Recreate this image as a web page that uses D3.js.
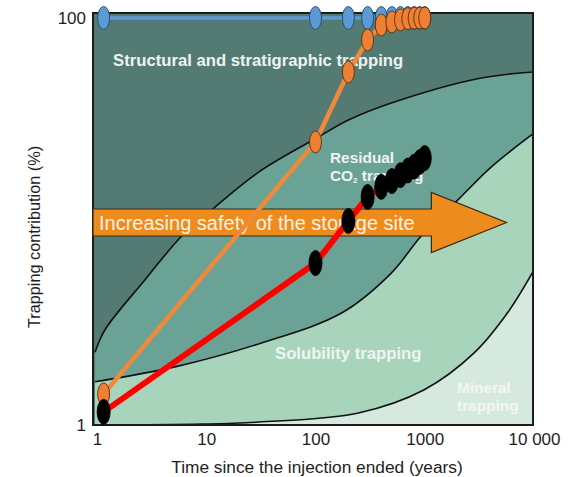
<!DOCTYPE html>
<html>
<head>
<meta charset="utf-8">
<script src="https://cdn.jsdelivr.net/npm/d3@7"></script>
<style>
  body { margin: 0; background: #fff; }
  svg { display: block; font-family: "Liberation Sans", Arial, sans-serif; }
</style>
</head>
<body>
<svg id="chart" width="569" height="477"></svg>
<script>
// Axis ticks
const xTicks = [1, 10, 100, 1000, 10000];
const xTickLabels = ["1", "10", "100", "1000", "10 000"];
const yTicks = [1, 100];
const yTickLabels = ["1", "100"];

// Sampled times (years after injection) and trapping contributions (%)
const sampleYears = [1.15, 100, 200, 300, 400, 500, 600, 700, 800, 900, 1000];
const blueValues = [100, 100, 100, 100, 100, 100, 100, 100, 100, 100, 100];
const orangeValues = [1.42, 24.6, 54.3, 78, 92.4, 95.6, 97.9, 99.3, 99.8, 100, 100];
const blackValues = [1.16, 6.25, 10.06, 13.2, 14.8, 15.8, 16.9, 17.8, 18.6, 19.6, 20.5];

// Boundaries between the trapping mechanisms
const structuralEdgeYears = [0.96, 1.18, 2.74, 5.97, 11.2, 30.2, 106, 200, 494, 3280, 10000];
const structuralEdge = [2.28, 2.93, 5.16, 8.49, 11.4, 17.5, 26.0, 31.5, 38.2, 50.7, 54.3];
const residualEdgeYears = [0.96, 5.16, 32.1, 173, 494, 929, 2023, 4050, 10000];
const residualEdge = [1.63, 1.93, 2.53, 3.55, 5.58, 8.49, 12.8, 18.5, 27.2];
const solubilityEdgeYears = [0.96, 9.1, 30.2, 247, 989, 2832, 5790, 10000];
const solubilityEdge = [1.0, 1.01, 1.034, 1.146, 1.49, 2.26, 3.59, 5.78];

// Arrow annotation: level (%) and years of the head base and tip
const arrowLevel = 10;
const arrowHeadYears = 1150;
const arrowTipYears = 5600;

const svg = d3.select("#chart");
const frame = { left: 93, right: 533, top: 13, bottom: 425 };

const x = d3.scaleLog().domain([1, 10000]).range([97, 534]);
const y = d3.scaleLog().domain([1, 100]).range([425, 18]);

svg.append("defs").append("clipPath").attr("id", "plotClip")
  .append("rect")
  .attr("x", frame.left).attr("y", frame.top)
  .attr("width", frame.right - frame.left).attr("height", frame.bottom - frame.top);

const plot = svg.append("g").attr("clip-path", "url(#plotClip)");

// Background: structural and stratigraphic trapping
plot.append("rect")
  .attr("x", frame.left).attr("y", frame.top)
  .attr("width", frame.right - frame.left).attr("height", frame.bottom - frame.top)
  .attr("fill", "#547b73");

function zip(ts, vs) { return ts.map((t, i) => ({ t, v: vs[i] })); }
const smooth = d3.curveCatmullRom.alpha(0.5);
const area = d3.area()
  .x(d => x(d.t)).y0(frame.bottom + 5).y1(d => y(d.v))
  .curve(smooth);
const edge = d3.line()
  .x(d => x(d.t)).y(d => y(d.v))
  .curve(smooth);

const layers = [
  { data: zip(structuralEdgeYears, structuralEdge), fill: "#6ba296" },
  { data: zip(residualEdgeYears, residualEdge), fill: "#a8d4bb" },
  { data: zip(solubilityEdgeYears, solubilityEdge), fill: "#d5e9df" }
];
layers.forEach(l => {
  plot.append("path").attr("d", area(l.data)).attr("fill", l.fill);
});
layers.forEach(l => {
  plot.append("path").attr("d", edge(l.data))
    .attr("fill", "none").attr("stroke", "#111").attr("stroke-width", 1.6);
});

// Region labels
const labelStyle = (sel, size) => sel
  .attr("fill", "#eef4f1").attr("font-weight", "bold").attr("font-size", size);
svg.append("text").attr("x", 113).attr("y", 66)
  .text("Structural and stratigraphic trapping").call(labelStyle, "16.7px");
svg.append("text").attr("x", 330).attr("y", 163).text("Residual").call(labelStyle, "15.4px");
const co2 = svg.append("text").attr("x", 330).attr("y", 180.5).call(labelStyle, "15.4px");
co2.append("tspan").text("CO");
co2.append("tspan").text("2").attr("font-size", "8px").attr("dy", 2);
co2.append("tspan").text(" trapping").attr("dy", -2);
svg.append("text").attr("x", 275).attr("y", 359).text("Solubility trapping").call(labelStyle, "16.7px");
svg.append("text").attr("x", 457).attr("y", 393).text("Mineral").call(labelStyle, "15.4px").attr("fill", "#f2f7f4");
svg.append("text").attr("x", 457).attr("y", 410.5).text("trapping").call(labelStyle, "15.4px").attr("fill", "#f2f7f4");

// Frame
svg.append("rect")
  .attr("x", frame.left).attr("y", frame.top)
  .attr("width", frame.right - frame.left).attr("height", frame.bottom - frame.top)
  .attr("fill", "none").attr("stroke", "#1c1c1c").attr("stroke-width", 2);

// Arrow
const ay = y(arrowLevel) + 1, shaft = 13.5, head = 30;
const hx = x(arrowHeadYears), tx = x(arrowTipYears);
svg.append("path")
  .attr("d", `M${frame.left},${ay - shaft}L${hx},${ay - shaft}L${hx},${ay - head}L${tx},${ay}` +
             `L${hx},${ay + head}L${hx},${ay + shaft}L${frame.left},${ay + shaft}Z`)
  .attr("fill", "#ee8b1d").attr("stroke", "#3b2a12").attr("stroke-width", 1.2);
svg.append("text").attr("x", 99).attr("y", ay + 7)
  .attr("font-size", "20px").attr("fill", "#fdf2e6")
  .text("Increasing safety of the storage site");

// Series
const series = [
  { values: blueValues, line: "#5b9bd5", width: 3.5, fill: "#5b9bd5", stroke: "#26466a", rx: 6, ry: 11.5 },
  { values: orangeValues, line: "#f08a3a", width: 4.5, fill: "#ef7f33", stroke: "#5a2e0c", rx: 6, ry: 11 },
  { values: blackValues, line: "#ff0000", width: 6, fill: "#000", stroke: "#000", rx: 6.5, ry: 12.5 }
];
const seriesLine = d3.line().x(d => x(d.t)).y(d => y(d.v));
series.forEach(s => {
  const pts = zip(sampleYears, s.values);
  svg.append("path").attr("d", seriesLine(pts))
    .attr("fill", "none").attr("stroke", s.line).attr("stroke-width", s.width)
    .attr("stroke-linejoin", "round");
  svg.append("g").selectAll("ellipse").data(pts).join("ellipse")
    .attr("cx", d => x(d.t)).attr("cy", d => y(d.v))
    .attr("rx", s.rx).attr("ry", s.ry)
    .attr("fill", s.fill).attr("stroke", s.stroke).attr("stroke-width", 0.9);
});

// Axes
const xAxis = svg.append("g").attr("transform", `translate(0,${frame.bottom})`)
  .call(d3.axisBottom(x).tickValues(xTicks).tickFormat((d, i) => xTickLabels[i])
    .tickSize(0).tickPadding(8));
const yAxis = svg.append("g").attr("transform", `translate(${frame.left},0)`)
  .call(d3.axisLeft(y).tickValues(yTicks).tickFormat((d, i) => yTickLabels[i])
    .tickSize(0).tickPadding(7));
[xAxis, yAxis].forEach(a => {
  a.select(".domain").remove();
  a.selectAll("text").attr("font-size", "17px").attr("fill", "#1e1e1e")
    .attr("font-family", "'Liberation Sans', Arial, sans-serif");
});

svg.append("text").attr("x", 317).attr("y", 473).attr("text-anchor", "middle")
  .attr("font-size", "17.3px").attr("fill", "#1e1e1e")
  .text("Time since the injection ended (years)");
svg.append("text").attr("transform", "translate(40,237) rotate(-90)")
  .attr("text-anchor", "middle").attr("font-size", "16.3px").attr("fill", "#1e1e1e")
  .text("Trapping contribution (%)");
</script>
</body>
</html>
